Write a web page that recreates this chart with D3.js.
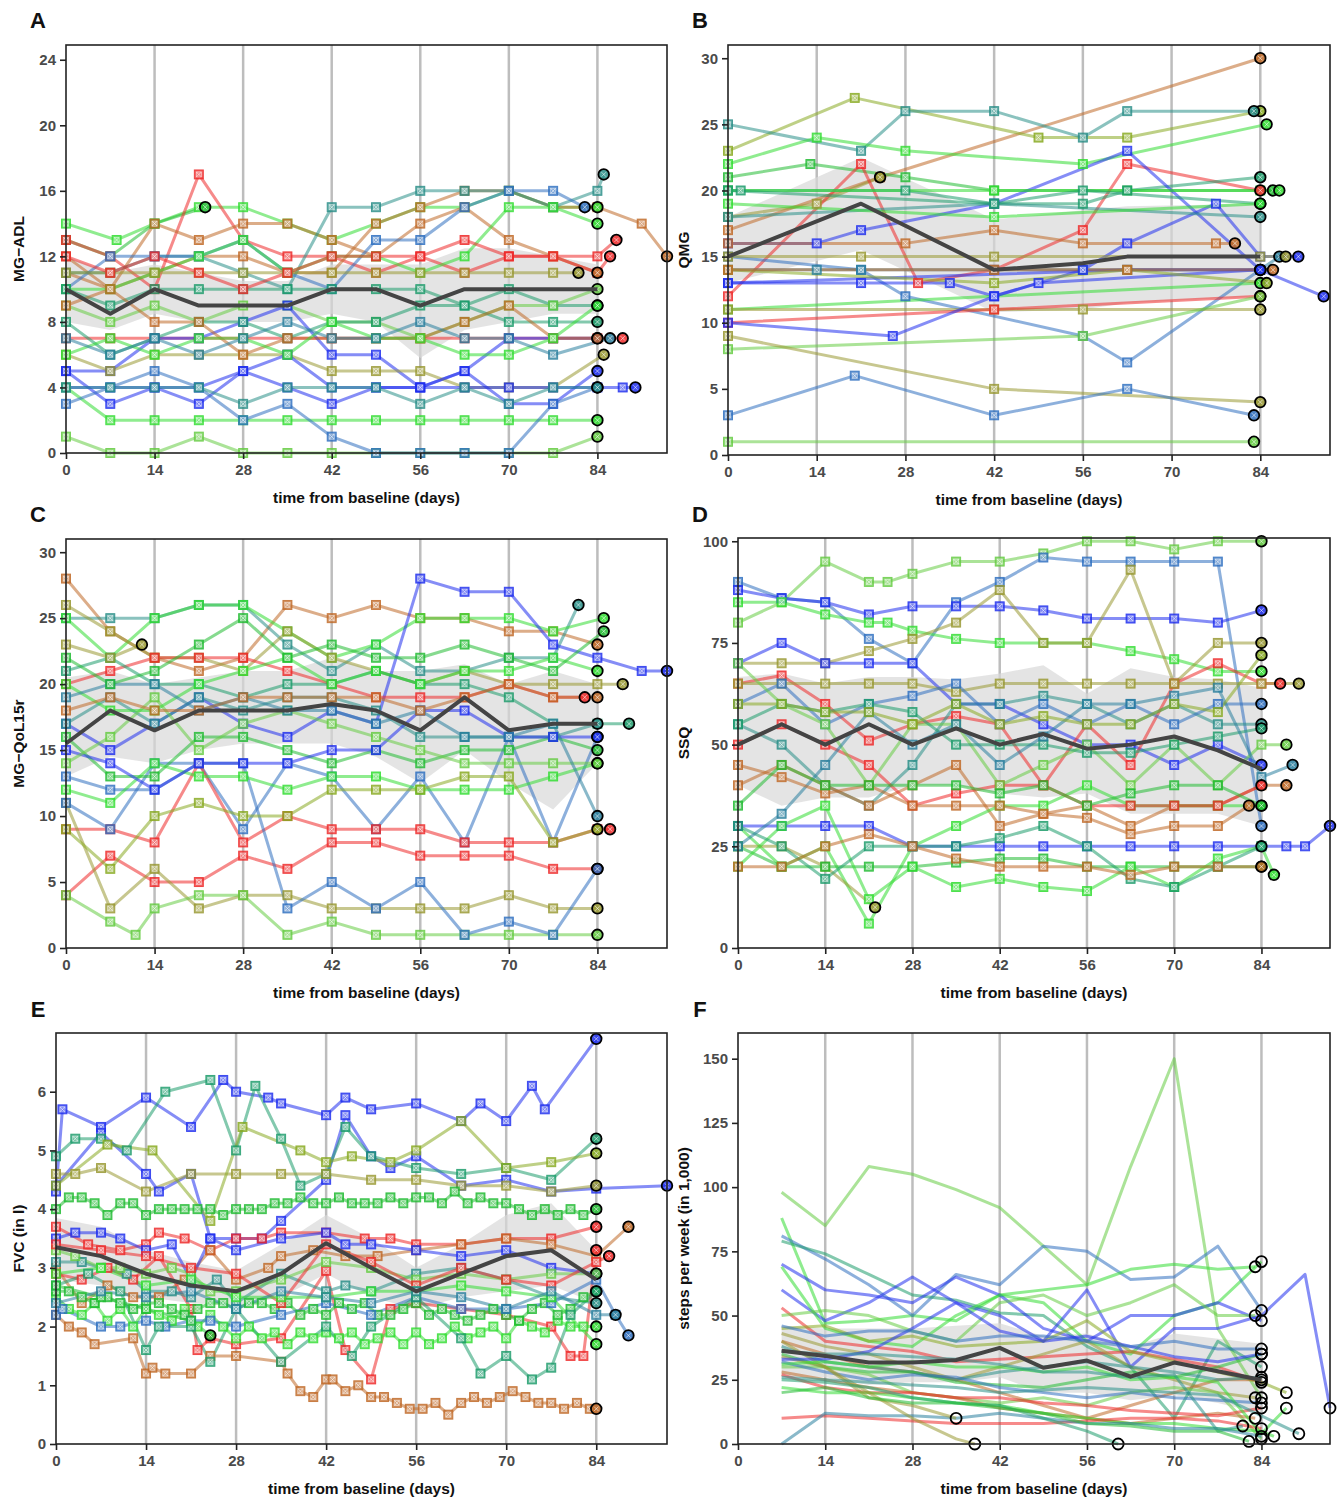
<!DOCTYPE html>
<html><head><meta charset="utf-8">
<script src="https://cdn.jsdelivr.net/npm/d3@7"></script>
<style>
body{margin:0;background:#fff;}
svg{display:block;font-family:"Liberation Sans",Arial,Helvetica,sans-serif;}
</style></head>
<body><svg id="chart" width="1338" height="1498"></svg>
<script>
// ---------- colours ----------
const palette = {g1:"#33dd33", g2:"#22bb33", g3:"#66cc44", tg:"#1e9c6c", te:"#2a8f88", ol:"#999933", yg:"#88aa22",
  br:"#c06a28", rd:"#ee2a2a", bl:"#2030ee", sb:"#3070c0", st:"#2a7f9e"};

// ---------- tick labels ----------
const xTicks = [0,14,28,42,56,70,84];
const ticksA = [0,4,8,12,16,20,24];
const ticksB = [0,5,10,15,20,25,30];
const ticksC = [0,5,10,15,20,25,30];
const ticksD = [0,25,50,75,100];
const ticksE = [0,1,2,3,4,5,6];
const ticksF = [0,25,50,75,100,125,150];

// ---------- mean and band ----------
const meanDays = [0,7,14,21,28,35,42,49,56,63,70,77,84];
const meanA = [10,8.5,10,9,9,9,10,10,9,10,10,10,10];
const loA   = [8,7.5,8.5,8,8,8,8.5,8,5.8,7.5,8,8.5,8.5];
const hiA   = [12,11,11.5,11,10.5,10.5,11.5,11.5,11.5,12.5,12.5,12,11.5];
const meanBDays = [0,21,42,56,63,84];
const meanB = [15,19,14,14.5,15,15];
const loB   = [13,15.5,10.8,11,11.5,12];
const hiB   = [18,22.5,17.8,18.5,18.8,19];
const meanC = [15.5,18,16.5,18,18,18,18.5,18,16.5,19,16.5,17,17];
const loC   = [13,14.5,14,15,15.5,15.5,15.5,14.5,12.5,15,12.5,10.5,14];
const hiC   = [20.5,21,20,20.5,21,21,22,21,21,21.5,20,21,20];
const meanD = [50,55,50,55,50,54,50,52.6,49,50,52,48.6,44];
const loD   = [40,35,37,37,40,40,38,37,38,33,33,33,30];
const hiD   = [66.6,67.5,65,66.6,66.6,66,67.5,69.5,62.5,68.8,66.6,66,64];
const meanE = [3.35,3.2,2.9,2.7,2.6,2.9,3.42,3.0,2.6,2.9,3.2,3.3,2.8];
const loE   = [2.8,2.7,2.5,2.4,2.35,2.5,2.9,2.5,2.3,2.5,2.6,2.7,2.4];
const hiE   = [3.85,3.7,3.3,3.1,2.95,3.4,3.9,3.5,3.0,3.4,3.9,4.1,3.3];
const meanFDays = [7,14,21,28,35,42,49,56,63,70,77,84];
const meanF = [36.3,34.3,31.7,31.7,32.7,37.4,29.7,32.5,26.2,31.7,28.3,24.9];
const loF   = [26,26,23,24,24,26,20,20,17,19,16,12];
const hiF   = [46,45,45,45,46,47,42,43,38,43,41,39];

// ---------- individual subjects: [colour, [[day,value],...]] ----------
const seriesA = [
 ["g1",[[0,14],[8,13],[14,14],[21,15],[28,15],[35,14],[42,13],[49,14],[56,15],[63,15],[70,16],[77,15],[84,15]]],
 ["g2",[[0,13],[7,12],[14,14],[22,15]]],
 ["rd",[[0,13],[7,12],[14,10],[21,17],[28,13],[35,12],[42,12],[49,11],[56,12],[63,11],[70,12],[77,12],[84,12],[87,13]]],
 ["br",[[0,12],[7,10],[14,14],[21,13],[28,14],[35,14],[42,13],[49,12],[56,14],[63,15],[70,13],[77,12],[84,11]]],
 ["br",[[0,11],[7,10],[14,11],[21,12],[28,12],[35,11],[42,11],[49,14],[56,15],[63,16],[70,16],[77,15],[84,15],[91,14],[95,12]]],
 ["te",[[0,11],[7,11],[14,12],[21,12],[28,11],[35,10],[42,15],[49,15],[56,16],[63,16],[70,16],[77,15],[84,16],[85,17]]],
 ["sb",[[0,10],[7,12],[14,12],[21,12],[28,13],[35,11],[42,10],[49,13],[56,13],[63,15],[70,16],[77,16],[82,15]]],
 ["g1",[[0,10],[7,10],[14,11],[21,12],[28,13],[35,11],[42,12],[49,12],[56,11],[63,12],[70,15],[77,15],[84,14]]],
 ["ol",[[0,11],[7,11],[14,11],[21,11],[28,11],[35,11],[42,11],[49,11],[56,11],[63,11],[70,11],[77,11],[81,11]]],
 ["tg",[[0,10],[7,9],[14,10],[21,10],[28,10],[35,10],[42,10],[49,10],[56,10],[63,9],[70,10],[77,9],[84,9]]],
 ["g3",[[0,9],[7,8],[14,9],[21,8],[28,9],[35,9],[42,8],[49,8],[56,7],[63,8],[70,9],[77,9],[84,10]]],
 ["rd",[[0,7],[7,7],[14,7],[21,7],[28,7],[35,7],[42,7],[49,7],[56,7],[63,7],[70,7],[77,7],[84,7],[88,7]]],
 ["bl",[[0,5],[7,5],[14,7],[21,7],[28,8],[35,9],[42,6],[49,6],[56,4],[63,5],[70,7],[77,7],[84,7]]],
 ["ol",[[0,6],[7,5],[14,6],[21,6],[28,6],[35,6],[42,5],[49,5],[56,5],[63,4],[70,4],[77,4],[85,6]]],
 ["bl",[[0,4],[7,4],[14,4],[21,4],[28,5],[35,4],[42,3],[49,4],[56,4],[63,5],[70,3],[77,3],[84,5]]],
 ["bl",[[0,5],[7,3],[14,4],[21,3],[28,5],[35,6],[42,4],[49,4],[56,4],[63,4],[70,4],[77,4],[84,4],[88,4],[90,4]]],
 ["g1",[[0,4],[7,2],[14,2],[21,2],[28,2],[35,2],[42,2],[49,2],[56,2],[63,2],[70,2],[77,2],[84,2]]],
 ["g3",[[0,1],[7,0],[14,0],[21,1],[28,0],[35,0],[42,0],[49,0],[56,0],[63,0],[70,0],[77,0],[84,1]]],
 ["sb",[[0,3],[7,4],[14,5],[21,4],[28,2],[35,3],[42,1],[49,0],[56,0],[63,0],[70,0],[77,3],[84,4]]],
 ["te",[[0,4],[7,4],[14,4],[21,4],[28,3],[35,4],[42,4],[49,4],[56,3],[63,4],[70,3],[77,4],[84,4]]],
 ["tg",[[0,8],[7,6],[14,7],[21,8],[28,8],[35,7],[42,8],[49,8],[56,9],[63,9],[70,8],[77,8],[84,8]]],
 ["br",[[0,9],[7,10],[14,8],[21,8],[28,6],[35,7],[42,7],[49,7],[56,7],[63,8],[70,9],[77,7],[84,7]]],
 ["rd",[[0,12],[7,11],[14,12],[21,11],[28,10],[35,11],[42,12],[49,12],[56,12],[63,13],[70,12],[77,12],[84,11],[86,12]]],
 ["g1",[[0,6],[7,7],[14,6],[21,7],[28,7],[35,6],[42,8],[49,7],[56,7],[63,6],[70,6],[77,7],[84,9]]],
 ["st",[[0,7],[7,6],[14,7],[21,6],[28,7],[35,8],[42,7],[49,7],[56,8],[63,7],[70,7],[77,6],[86,7]]]
];
const seriesB = [
 ["br",[[0,17],[24,21],[84,30]]],
 ["yg",[[0,23],[20,27],[49,24],[63,24],[84,26]]],
 ["te",[[0,25],[21,23],[28,26],[42,26],[56,24],[63,26],[83,26]]],
 ["g1",[[0,22],[14,24],[28,23],[56,22],[85,25]]],
 ["g2",[[0,21],[13,22],[28,21],[42,20],[63,20],[86,20]]],
 ["ol",[[0,18],[14,19],[24,21]]],
 ["rd",[[0,12],[21,22],[30,13],[42,14],[56,17],[63,22],[84,20]]],
 ["tg",[[0,20],[2,20],[28,20],[42,19],[56,19],[63,20],[84,21]]],
 ["bl",[[0,16],[14,16],[21,17],[42,19],[63,23],[84,14]]],
 ["sb",[[0,15],[21,14],[28,12],[56,9],[63,7],[84,14]]],
 ["st",[[0,14],[14,14],[21,14],[42,14],[56,14],[84,14],[87,15]]],
 ["bl",[[0,13],[21,13],[35,13],[42,12],[49,13],[84,14]]],
 ["g1",[[0,11],[84,13]]],
 ["ol",[[0,11],[42,11],[56,11],[84,11]]],
 ["rd",[[0,10],[42,11],[84,12]]],
 ["bl",[[0,10],[26,9],[42,12],[56,14],[63,16],[77,19],[84,15],[90,15]]],
 ["g3",[[0,8],[56,9],[84,12]]],
 ["ol",[[0,9],[42,5],[84,4]]],
 ["sb",[[0,3],[20,6],[42,3],[63,5],[83,3]]],
 ["g3",[[0,1],[83,1]]],
 ["bl",[[0,13],[63,14],[84,14],[94,12]]],
 ["br",[[0,16],[28,16],[42,17],[56,16],[77,16],[80,16]]],
 ["te",[[0,18],[42,19],[84,18]]],
 ["ol",[[0,15],[21,15],[42,15],[84,15],[88,15]]],
 ["g1",[[0,20],[42,20],[84,20],[87,20]]],
 ["tg",[[0,20],[42,19],[56,20],[84,19]]],
 ["yg",[[0,14],[42,13],[63,14],[85,13]]],
 ["g1",[[0,19],[42,18],[84,19]]],
 ["br",[[0,14],[42,14],[63,14],[86,14]]]
];
const seriesC = [
 ["br",[[0,28],[7,24],[14,22],[21,21],[28,22],[35,26],[42,25],[49,26],[56,25],[63,25],[70,24],[77,24],[84,23]]],
 ["te",[[0,25],[7,25],[14,25],[21,26],[28,26],[35,23],[42,21],[49,23],[56,21],[63,21],[70,22],[77,22],[81,26]]],
 ["g1",[[0,25],[7,22],[14,25],[21,26],[28,26],[35,24],[42,22],[49,23],[56,25],[63,25],[70,25],[77,24],[85,25]]],
 ["ol",[[0,26],[7,24],[14,22],[21,22],[28,21],[35,24],[42,22],[49,21],[56,20],[63,21],[70,20],[77,20],[84,20],[88,20]]],
 ["bl",[[0,17],[7,15],[14,17],[21,19],[28,17],[35,16],[42,18],[49,17],[56,28],[63,27],[70,27],[77,23],[84,22],[91,21],[95,21]]],
 ["rd",[[0,20],[7,21],[14,22],[21,22],[28,22],[35,21],[42,20],[49,19],[56,19],[63,19],[70,20],[77,19],[82,19]]],
 ["sb",[[0,13],[7,12],[14,12],[21,14],[28,9],[35,14],[42,13],[49,9],[56,13],[63,8],[70,16],[77,8],[84,16]]],
 ["rd",[[0,9],[7,9],[14,8],[21,14],[28,8],[35,10],[42,9],[49,9],[56,9],[63,8],[70,8],[77,8],[84,9],[86,9]]],
 ["rd",[[0,4],[7,7],[14,5],[21,5],[28,7],[35,6],[42,8],[49,8],[56,7],[63,7],[70,7],[77,6],[84,6]]],
 ["ol",[[0,11],[7,3],[14,6],[21,3],[28,4],[35,4],[42,3],[49,3],[56,3],[63,3],[70,4],[77,3],[84,3]]],
 ["g3",[[0,4],[7,2],[11,1],[14,3],[21,4],[28,4],[35,1],[42,2],[49,1],[56,1],[63,1],[70,1],[77,1],[84,1]]],
 ["sb",[[0,11],[7,9],[14,14],[21,14],[28,14],[35,3],[42,5],[49,3],[56,5],[63,1],[70,2],[77,1],[84,6]]],
 ["tg",[[0,21],[7,22],[14,20],[21,20],[28,19],[35,20],[42,20],[49,21],[56,20],[63,20],[70,19],[77,17],[84,17],[89,17]]],
 ["g1",[[0,12],[7,11],[14,14],[21,13],[28,13],[35,12],[42,13],[49,13],[56,12],[63,12],[70,12],[77,13],[84,14]]],
 ["g2",[[0,16],[7,13],[14,13],[21,16],[28,16],[35,15],[42,14],[49,15],[56,14],[63,15],[70,15],[77,16],[84,15]]],
 ["te",[[0,17],[7,19],[14,17],[21,19],[28,18],[35,19],[42,19],[49,18],[56,16],[63,16],[70,16],[77,16],[84,17]]],
 ["bl",[[0,15],[7,14],[14,12],[21,14],[28,14],[35,14],[42,15],[49,15],[56,18],[63,18],[70,16],[77,16],[84,16]]],
 ["g3",[[0,14],[7,16],[14,19],[21,15],[28,17],[35,18],[42,17],[49,16],[56,15],[63,14],[70,14],[77,14],[84,14]]],
 ["yg",[[0,9],[7,6],[14,10],[21,11],[28,10],[35,10],[42,12],[49,12],[56,12],[63,13],[70,13],[77,8],[84,9]]],
 ["g1",[[0,20],[7,18],[14,18],[21,20],[28,21],[35,22],[42,20],[49,21],[56,20],[63,21],[70,21],[77,22],[84,21]]],
 ["ol",[[0,23],[7,22],[12,23]]],
 ["st",[[0,19],[7,20],[14,20],[21,18],[28,19],[35,18],[42,18],[49,17],[56,18],[63,16],[70,16],[77,17],[84,10]]],
 ["br",[[0,18],[7,19],[14,18],[21,18],[28,19],[35,19],[42,19],[49,19],[56,18],[63,19],[70,20],[77,19],[84,19]]],
 ["g2",[[0,22],[7,20],[14,21],[21,23],[28,25],[35,22],[42,23],[49,22],[56,22],[63,23],[70,22],[77,21],[85,24]]]
];
const seriesD = [
 ["g3",[[0,80],[7,85],[14,95],[21,90],[24,90],[28,92],[35,95],[42,95],[49,97],[56,100],[63,100],[70,98],[77,100],[84,100]]],
 ["sb",[[0,90],[7,86],[14,85],[21,76],[28,70],[35,85],[42,90],[49,96],[56,95],[63,95],[70,95],[77,95],[84,30]]],
 ["bl",[[0,88],[7,86],[14,85],[21,82],[28,84],[35,84],[42,84],[49,83],[56,81],[63,81],[70,81],[77,80],[84,83]]],
 ["g1",[[0,85],[7,85],[14,82],[21,80],[24,80],[28,78],[35,76],[42,75],[49,75],[56,75],[63,73],[70,71],[77,68],[84,68]]],
 ["ol",[[0,70],[7,70],[14,70],[21,73],[28,76],[35,80],[42,88],[49,75],[56,75],[63,93],[70,65],[77,75],[84,75]]],
 ["bl",[[0,70],[7,75],[14,70],[21,70],[28,70],[35,60],[42,60],[49,55],[56,50],[63,50],[70,45],[77,50],[84,45]]],
 ["rd",[[0,65],[7,67],[14,60],[21,51],[28,55],[35,57],[42,55],[49,40],[56,55],[63,45],[70,65],[77,70],[84,65],[87,65]]],
 ["ol",[[0,65],[7,65],[14,65],[21,65],[28,65],[35,63],[42,65],[49,65],[56,65],[63,65],[70,65],[77,65],[84,65],[90,65]]],
 ["te",[[0,55],[7,50],[14,40],[21,35],[28,45],[35,60],[42,60],[49,62],[56,60],[63,55],[70,60],[77,55],[84,55]]],
 ["br",[[0,40],[7,45],[14,40],[21,35],[28,40],[35,45],[42,30],[49,33],[56,35],[63,30],[70,35],[77,35],[84,40],[88,40]]],
 ["g1",[[0,30],[7,20],[14,25],[21,6],[28,25],[35,30],[42,35],[49,35],[56,40],[63,35],[70,35],[77,35],[84,35]]],
 ["ol",[[0,25],[7,25],[14,20],[22,10]]],
 ["bl",[[0,30],[7,30],[14,30],[21,30],[28,25],[35,25],[42,25],[49,25],[56,25],[63,25],[70,25],[77,25],[84,25],[88,25],[91,25],[95,30]]],
 ["g2",[[0,25],[7,20],[14,20],[21,20],[28,20],[35,21],[42,22],[49,22],[56,20],[63,20],[70,20],[77,20],[84,20]]],
 ["g1",[[0,20],[7,30],[14,35],[21,12],[28,20],[35,15],[42,17],[49,15],[56,14],[63,20],[70,15],[77,22],[84,25],[86,18]]],
 ["tg",[[0,30],[7,25],[14,17],[21,25],[28,25],[35,25],[42,27],[49,30],[56,25],[63,17],[70,15],[77,20],[84,25]]],
 ["br",[[0,20],[7,20],[14,25],[21,28],[28,25],[35,22],[42,20],[49,20],[56,20],[63,18],[70,20],[77,20],[84,20]]],
 ["rd",[[0,50],[7,55],[14,50],[21,45],[28,35],[35,38],[42,40],[49,40],[56,35],[63,35],[70,35],[77,35],[84,40]]],
 ["sb",[[0,60],[7,65],[14,55],[21,60],[28,62],[35,65],[42,55],[49,60],[56,55],[63,60],[70,55],[77,60],[84,60]]],
 ["g3",[[0,70],[7,60],[14,55],[21,40],[28,55],[35,55],[42,40],[49,45],[56,50],[63,40],[70,50],[77,40],[84,50],[88,50]]],
 ["tg",[[0,55],[7,60],[14,58],[21,60],[28,58],[35,50],[42,50],[49,50],[56,48],[63,48],[70,50],[77,52],[84,54]]],
 ["st",[[0,25],[7,33],[14,45],[21,58],[28,50],[35,55],[42,45],[49,52],[56,60],[63,60],[70,62],[77,64],[84,42],[89,45]]],
 ["br",[[0,45],[7,42],[14,38],[21,40],[28,35],[35,35],[42,35],[49,33],[56,32],[63,28],[70,30],[77,30],[82,35]]],
 ["g2",[[0,35],[7,45],[14,40],[21,40],[28,40],[35,40],[42,38],[49,40],[56,35],[63,38],[70,40],[77,40],[84,35]]],
 ["yg",[[0,60],[7,60],[14,58],[21,58],[28,55],[35,60],[42,55],[49,57],[56,55],[63,55],[70,60],[77,58],[84,72]]]
];
const seriesE = [
 ["bl",[[0,4.3],[1,5.7],[7,5.4],[14,5.9],[21,5.4],[26,6.2],[28,6.0],[33,5.9],[35,5.8],[42,5.6],[45,5.9],[49,5.7],[56,5.8],[63,5.5],[66,5.8],[70,5.5],[74,6.1],[76,5.7],[84,6.9]]],
 ["bl",[[0,4.4],[7,5.3],[14,4.6],[16,4.3],[21,4.6],[24,3.5],[28,3.5],[32,3.5],[35,3.8],[42,4.5],[45,5.6],[49,4.9],[52,4.7],[56,4.9],[63,4.4],[70,4.5],[77,4.3],[84,4.35],[95,4.4]]],
 ["tg",[[0,4.9],[3,5.2],[7,5.2],[11,5.0],[17,6.0],[24,6.2],[28,5.0],[31,6.1],[35,5.2],[38,4.4],[42,4.6],[45,5.4],[49,4.9],[56,4.7],[63,4.6],[70,4.7],[77,4.5],[84,5.2]]],
 ["ol",[[0,4.6],[3,4.6],[7,4.7],[14,4.3],[21,4.6],[28,4.6],[35,4.6],[42,4.6],[49,4.5],[56,4.5],[63,4.4],[70,4.4],[77,4.3],[84,4.4]]],
 ["yg",[[0,4.4],[8,5.1],[15,5.0],[24,3.8],[29,5.4],[38,5.0],[42,4.8],[46,4.9],[52,4.8],[56,5.0],[63,5.5],[70,4.7],[77,4.8],[84,4.95]]],
 ["g2",[[0,4.0],[2,4.2],[4,4.2],[6,4.1],[8,3.9],[10,4.1],[12,4.1],[14,3.9],[16,4.0],[18,4.0],[20,4.0],[22,4.0],[24,4.0],[26,3.9],[28,4.0],[30,4.0],[32,4.0],[34,4.1],[36,4.1],[38,4.2],[40,4.1],[42,4.1],[44,4.2],[46,4.1],[48,4.1],[50,4.1],[52,4.2],[54,4.1],[56,4.2],[58,4.2],[60,4.1],[62,4.3],[64,4.1],[66,4.2],[68,4.1],[70,4.1],[72,4.0],[74,3.9],[76,4.0],[78,3.9],[80,4.0],[82,3.9],[84,4.0]]],
 ["rd",[[0,3.7],[5,3.4],[10,3.3],[14,3.4],[16,3.6],[20,3.5],[24,3.3],[28,3.5],[32,3.5],[35,3.6],[42,3.6],[48,3.5],[52,3.5],[56,3.4],[63,3.4],[70,3.5],[77,3.5],[84,3.7]]],
 ["br",[[0,2.2],[2,2.0],[4,1.9],[6,1.7],[12,1.8],[14,1.2],[15,1.3],[17,1.2],[21,1.2],[24,1.5],[28,1.5],[35,1.4],[36,1.2],[38,0.9],[40,0.8],[42,1.1],[43,1.1],[45,0.9],[47,1.0],[49,0.8],[51,0.8],[53,0.7],[55,0.6],[57,0.6],[59,0.7],[61,0.5],[63,0.7],[65,0.8],[67,0.7],[69,0.8],[71,0.9],[73,0.8],[75,0.7],[77,0.7],[79,0.6],[81,0.7],[83,0.6],[84,0.6]]],
 ["br",[[0,3.0],[4,2.4],[8,2.7],[12,2.5],[16,2.5],[20,2.8],[24,3.3],[28,2.8],[33,3.0],[35,3.2],[40,3.3],[45,3.2],[50,3.2],[56,3.3],[63,3.4],[70,3.5],[77,3.4],[84,3.2],[89,3.7]]],
 ["rd",[[0,2.9],[4,2.8],[8,3.0],[12,2.8],[16,3.2],[21,2.3],[22,1.6],[24,1.8],[28,1.7],[35,1.8],[42,2.95],[45,1.6],[49,1.1],[52,2.3],[56,2.4],[63,2.3],[70,2.2],[77,2.0],[80,1.5],[82,1.5],[84,3.3]]],
 ["g1",[[0,2.5],[2,2.3],[4,2.2],[6,2.4],[8,2.1],[10,2.3],[12,2.0],[14,2.3],[16,2.2],[18,2.1],[20,2.3],[22,2.0],[24,2.2],[26,2.0],[28,1.8],[30,2.0],[32,1.8],[34,1.9],[36,1.7],[38,1.9],[40,1.8],[42,1.9],[44,1.8],[46,1.9],[48,1.7],[50,1.8],[52,1.9],[54,1.7],[56,1.9],[58,1.7],[60,1.8],[62,2.0],[64,1.8],[66,1.9],[68,2.0],[70,1.8],[72,2.1],[74,2.0],[76,1.9],[78,2.1],[80,2.0],[82,2.0],[84,2.0]]],
 ["g2",[[0,2.6],[2,2.6],[4,2.5],[6,2.4],[8,2.5],[10,2.4],[12,2.3],[14,2.4],[16,2.4],[18,2.3],[20,2.2],[22,2.3],[24,2.4],[26,2.4],[28,2.3],[30,2.4],[32,2.4],[34,2.3],[36,2.4],[38,2.2],[40,2.3],[42,2.2],[44,2.4],[46,2.3],[48,2.4],[50,2.2],[52,2.2],[54,2.3],[56,2.4],[58,2.2],[60,2.3],[62,2.2],[64,2.1],[66,2.2],[68,2.3],[70,2.2],[72,2.1],[74,2.3],[76,2.4],[78,2.2],[80,2.3],[82,2.5],[84,2.6]]],
 ["sb",[[0,2.2],[1,2.3],[7,2.0],[10,2.0],[14,2.1],[17,2.0],[21,2.1],[24,2.1],[28,2.0],[35,2.2],[42,2.4],[49,2.2],[56,2.5],[63,2.3],[70,2.3],[77,2.4],[84,2.8],[87,2.2],[89,1.85]]],
 ["te",[[0,3.1],[4,3.1],[7,3.0],[11,2.9],[14,2.6],[18,2.6],[21,2.5],[25,2.8],[28,2.4],[35,2.9],[42,2.6],[45,2.7],[49,2.6],[56,2.9],[63,3.0],[70,2.8],[77,2.5],[84,2.4]]],
 ["bl",[[0,3.5],[3,3.6],[7,3.6],[10,3.5],[14,3.3],[18,3.4],[21,2.8],[24,3.5],[28,3.3],[35,3.5],[42,3.6],[45,3.4],[49,3.4],[56,3.3],[63,3.2],[70,3.3],[77,3.0],[84,2.9]]],
 ["tg",[[0,2.7],[5,2.9],[10,2.6],[14,1.6],[16,2.0],[21,2.0],[24,1.4],[28,2.3],[35,1.4],[42,2.0],[46,1.5],[49,2.0],[56,2.5],[63,1.8],[66,1.2],[70,1.5],[74,1.1],[77,1.3],[80,2.2],[84,2.6]]],
 ["g3",[[0,3.3],[3,3.2],[7,3.0],[10,3.0],[14,2.9],[18,3.0],[21,2.9],[24,2.6],[28,2.6],[35,2.8],[42,3.1],[49,3.0],[56,2.8],[63,2.9],[70,2.8],[77,2.9],[84,2.9]]],
 ["g2",[[0,2.7],[7,2.5],[14,2.3],[21,2.1],[24,1.85]]],
 ["rd",[[0,3.4],[7,3.3],[14,3.2],[21,3.0],[28,2.9],[35,2.4],[42,3.4],[49,3.1],[56,2.7],[63,3.0],[70,2.8],[77,2.7],[84,3.1],[86,3.2]]],
 ["g1",[[0,2.9],[7,3.0],[14,2.7],[21,2.8],[28,2.5],[35,2.5],[42,2.5],[49,2.6],[56,2.6],[63,2.7],[70,2.6],[77,2.5],[84,1.7]]],
 ["st",[[0,2.4],[7,2.6],[14,2.5],[21,2.6],[28,2.3],[35,2.6],[42,2.5],[49,2.4],[56,2.6],[63,2.5],[70,2.3],[77,2.6],[84,2.2],[87,2.2]]]
];
const seriesF = [
 ["g3",[[7,98],[14,85],[21,108],[28,105],[35,99],[42,92],[49,77],[56,62],[63,108],[70,150],[77,45],[84,18]]],
 ["g1",[[7,88],[14,47],[21,48],[28,50],[35,48],[42,58],[49,55],[56,40],[63,35],[70,50],[77,55],[84,71]]],
 ["sb",[[7,81],[14,72],[21,62],[28,50],[35,66],[42,62],[49,77],[56,75],[63,64],[70,65],[77,77],[84,52]]],
 ["tg",[[7,79],[14,74],[21,66],[28,58],[35,56],[42,51],[49,50],[56,38],[63,30],[70,10],[77,40],[84,30]]],
 ["bl",[[7,60],[14,48],[21,55],[28,65],[35,55],[42,50],[49,40],[56,60],[63,30],[70,45],[77,45],[84,50],[91,66],[95,14]]],
 ["bl",[[7,70],[14,60],[21,58],[28,55],[35,65],[42,58],[49,45],[56,40],[63,50],[70,50],[77,55],[84,48]]],
 ["g1",[[7,69],[14,45],[21,40],[28,38],[35,50],[42,58],[49,60],[56,62],[63,68],[70,70],[77,68],[83,69]]],
 ["rd",[[7,53],[14,40],[21,38],[28,36],[35,32],[42,33],[49,34],[56,35],[63,36],[70,33],[77,30],[84,24]]],
 ["yg",[[7,45],[14,46],[21,40],[28,42],[35,38],[42,39],[49,40],[56,48],[63,36],[70,32],[77,28],[84,24],[88,20]]],
 ["ol",[[7,43],[14,38],[21,35],[28,30],[35,25],[42,30],[49,35],[56,40],[63,30],[70,25],[77,20],[83,18]]],
 ["br",[[7,40],[14,35],[21,30],[28,28],[35,25],[42,20],[49,15],[56,10],[63,15],[70,20],[77,25],[84,25]]],
 ["te",[[7,38],[14,32],[21,30],[28,28],[35,25],[42,28],[49,30],[56,32],[63,30],[70,28],[77,25],[84,26]]],
 ["g2",[[7,35],[14,30],[21,28],[28,28],[35,24],[42,23],[49,22],[56,25],[63,28],[70,26],[77,30],[84,35]]],
 ["g3",[[7,30],[14,30],[21,27],[28,20],[35,18],[42,16],[49,18],[56,15],[63,20],[70,22],[77,20],[84,2]]],
 ["br",[[7,28],[14,25],[21,22],[28,20],[35,18],[42,14],[49,12],[56,10],[63,8],[70,10],[77,12],[83,10]]],
 ["rd",[[7,27],[14,22],[21,20],[28,20],[35,18],[42,18],[49,16],[56,15],[63,13],[70,12],[77,11],[84,14]]],
 ["sb",[[7,32],[14,28],[21,25],[28,27],[35,26],[42,22],[49,20],[56,18],[63,20],[70,18],[77,17],[84,16]]],
 ["g1",[[7,22],[14,20],[21,20],[28,18],[35,16],[42,15],[49,12],[56,10],[63,8],[70,8],[77,6],[84,5],[86,3]]],
 ["rd",[[7,10],[14,11],[21,10],[28,9],[35,8],[42,8],[49,8],[56,9],[63,10],[70,10],[77,9],[84,6]]],
 ["st",[[7,0],[14,12],[21,11],[28,11],[35,10],[42,12],[49,10],[56,8],[63,8],[70,6],[77,6],[84,3]]],
 ["ol",[[7,40],[14,30],[21,18],[28,15],[35,10]]],
 ["ol",[[7,34],[14,30],[21,20],[28,10],[35,2],[38,0]]],
 ["tg",[[7,25],[14,24],[21,22],[28,18],[35,16],[42,15],[49,10],[56,5],[61,0]]],
 ["g3",[[7,50],[14,52],[21,50],[28,44],[35,40],[42,55],[49,58],[56,50],[63,55],[70,62],[77,50],[83,50]]],
 ["bl",[[7,33],[14,33],[21,36],[28,45],[35,55],[42,44],[49,40],[56,42],[63,38],[70,34],[77,32],[84,35]]],
 ["sb",[[7,46],[14,42],[21,44],[28,44],[35,40],[42,42],[49,42],[56,40],[63,38],[70,40],[77,37],[84,37]]],
 ["g1",[[7,31],[14,32],[21,30],[28,32],[35,30],[42,30],[49,28],[56,30],[63,25],[70,26],[77,24],[84,4],[88,14]]],
 ["te",[[7,36],[14,35],[21,35],[28,34],[35,33],[42,31],[49,28],[56,28],[63,26],[70,27],[77,5],[81,7]]],
 ["g2",[[7,20],[14,22],[21,18],[28,16],[35,16],[42,14],[49,12],[56,8],[63,7],[70,5],[77,5],[82,1]]],
 ["te",[[7,26],[14,25],[21,24],[28,23],[35,22],[42,20],[49,21],[56,22],[63,21],[70,20],[77,19],[90,4]]]
];

// ---------- panels ----------
const panels = [
 {id:"A", x0:66, x1:667, y0:45, y1:453, ymax:24.9, yTicks:ticksA, ylab:"MG\u2212ADL", ylabX:18, letter:[38,20],
  series:seriesA, md:meanDays, mean:meanA, lo:loA, hi:hiA, markers:true},
 {id:"B", x0:728, x1:1330, y0:45, y1:455, ymax:31, yTicks:ticksB, ylab:"QMG", ylabX:683, letter:[700,20],
  series:seriesB, md:meanBDays, mean:meanB, lo:loB, hi:hiB, markers:true},
 {id:"C", x0:66, x1:667, y0:539, y1:948, ymax:31, yTicks:ticksC, ylab:"MG\u2212QoL15r", ylabX:18, letter:[38,514],
  series:seriesC, md:meanDays, mean:meanC, lo:loC, hi:hiC, markers:true},
 {id:"D", x0:738, x1:1330, y0:538, y1:948, ymax:100.8, yTicks:ticksD, ylab:"SSQ", ylabX:683, letter:[700,514],
  series:seriesD, md:meanDays, mean:meanD, lo:loD, hi:hiD, markers:true},
 {id:"E", x0:56, x1:667, y0:1033, y1:1444, ymax:7, yTicks:ticksE, ylab:"FVC (in l)", ylabX:18, letter:[38,1009],
  series:seriesE, md:meanDays, mean:meanE, lo:loE, hi:hiE, markers:true},
 {id:"F", x0:738, x1:1330, y0:1033, y1:1444, ymax:160, yTicks:ticksF, ylab:"steps per week (in 1,000)", ylabX:683, letter:[700,1009],
  series:seriesF, md:meanFDays, mean:meanF, lo:loF, hi:hiF, markers:false}
];

const svg = d3.select("#chart");
svg.append("rect").attr("width",1338).attr("height",1498).attr("fill","#fff");

function drawSquare(g, x, y, col) {
  g.append("rect").attr("x",x-4.5).attr("y",y-4.5).attr("width",9).attr("height",9)
    .attr("fill",col).attr("fill-opacity",0.75).attr("stroke",col).attr("stroke-opacity",0.8).attr("stroke-width",1);
  g.append("rect").attr("x",x-2.6).attr("y",y-2.6).attr("width",5.2).attr("height",5.2)
    .attr("fill","#fff").attr("fill-opacity",0.3).attr("stroke","#fff").attr("stroke-opacity",0.6).attr("stroke-width",0.7);
  g.append("path").attr("d",`M${x-2.3},${y-2.3}L${x+2.3},${y+2.3}M${x-2.3},${y+2.3}L${x+2.3},${y-2.3}`)
    .attr("stroke","#fff").attr("stroke-opacity",0.75).attr("stroke-width",0.8);
}
function drawEnd(g, x, y, col, filled) {
  if (filled) {
    g.append("circle").attr("cx",x).attr("cy",y).attr("r",5.3).attr("fill",col).attr("fill-opacity",0.85)
      .attr("stroke","#000").attr("stroke-width",1.8);
    g.append("path").attr("d",`M${x-2.2},${y-2.2}L${x+2.2},${y+2.2}M${x-2.2},${y+2.2}L${x+2.2},${y-2.2}`)
      .attr("stroke","#fff").attr("stroke-opacity",0.7).attr("stroke-width",0.8);
  } else {
    g.append("circle").attr("cx",x).attr("cy",y).attr("r",5.5).attr("fill","none")
      .attr("stroke","#000").attr("stroke-width",1.8);
  }
}

panels.forEach(p => {
  const g = svg.append("g");
  const x = d3.scaleLinear().domain([0,95]).range([p.x0,p.x1]);
  const y = d3.scaleLinear().domain([0,p.ymax]).range([p.y1,p.y0]);

  // vertical grid lines
  g.selectAll(".grid").data(xTicks.filter(d=>d>0)).join("line")
    .attr("x1",d=>x(d)).attr("x2",d=>x(d)).attr("y1",p.y0).attr("y2",p.y1)
    .attr("stroke","#bdbdbd").attr("stroke-width",2.5);

  // band
  const area = d3.area().x((d,i)=>x(p.md[i])).y0((d,i)=>y(p.lo[i])).y1((d,i)=>y(p.hi[i]));
  g.append("path").datum(p.md).attr("d",area).attr("fill","#d8d8d8").attr("fill-opacity",0.7);

  // subject lines
  const line = d3.line().x(d=>x(d[0])).y(d=>y(d[1]));
  p.series.forEach(s => {
    g.append("path").datum(s[1]).attr("d",line).attr("fill","none")
      .attr("stroke",palette[s[0]]).attr("stroke-opacity",0.55).attr("stroke-width",3)
      .attr("stroke-linejoin","round");
  });
  // markers
  p.series.forEach(s => {
    const col = palette[s[0]];
    const pts = s[1];
    pts.forEach((d,i) => {
      if (i === pts.length-1) return;
      if (p.markers) drawSquare(g, x(d[0]), y(d[1]), col);
    });
  });
  p.series.forEach(s => {
    const pts = s[1]; const d = pts[pts.length-1];
    drawEnd(g, x(d[0]), y(d[1]), palette[s[0]], p.markers);
  });

  // mean line
  const ml = d3.line().x((d,i)=>x(p.md[i])).y((d,i)=>y(p.mean[i]));
  g.append("path").datum(p.md).attr("d",ml).attr("fill","none").attr("stroke","#444")
    .attr("stroke-width",4).attr("stroke-linejoin","round");

  // frame
  g.append("rect").attr("x",p.x0).attr("y",p.y0).attr("width",p.x1-p.x0).attr("height",p.y1-p.y0)
    .attr("fill","none").attr("stroke","#222").attr("stroke-width",1.6);

  // axes
  const xa = g.append("g").attr("transform",`translate(0,${p.y1})`)
    .call(d3.axisBottom(x).tickValues(xTicks).tickSize(6).tickPadding(5).tickFormat(d3.format("d")));
  const ya = g.append("g").attr("transform",`translate(${p.x0},0)`)
    .call(d3.axisLeft(y).tickValues(p.yTicks).tickSize(6).tickPadding(4).tickFormat(d3.format("d")));
  [xa,ya].forEach(a => {
    a.select(".domain").remove();
    a.selectAll(".tick line").attr("stroke","#222").attr("stroke-width",1.6);
    a.selectAll(".tick text").attr("fill","#4a4a4a").attr("font-size",15).attr("font-weight","bold")
      .attr("font-family","'Liberation Sans',Arial,sans-serif");
  });

  // titles
  g.append("text").attr("x",(p.x0+p.x1)/2).attr("y",p.y1+50).attr("text-anchor","middle")
    .attr("font-size",15.5).attr("font-weight","bold").attr("fill","#111").text("time from baseline (days)");
  g.append("text").attr("transform",`translate(${p.ylabX},${(p.y0+p.y1)/2}) rotate(-90)`)
    .attr("text-anchor","middle").attr("dominant-baseline","central")
    .attr("font-size",15.5).attr("font-weight","bold").attr("fill","#111").text(p.ylab);
  g.append("text").attr("x",p.letter[0]).attr("y",p.letter[1]).attr("text-anchor","middle")
    .attr("dominant-baseline","central").attr("font-size",22).attr("font-weight","bold").attr("fill","#111").text(p.id);
});
</script>
</body></html>
